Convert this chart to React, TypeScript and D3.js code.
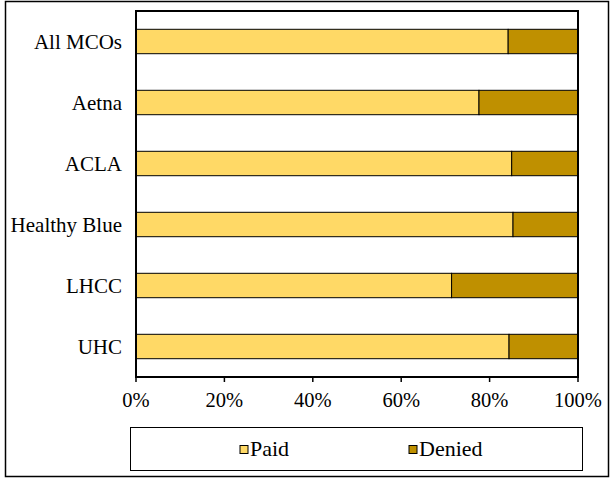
import React from "react";
import * as d3 from "d3";

const categories = ["All MCOs", "Aetna", "ACLA", "Healthy Blue", "LHCC", "UHC"];
const paid = [84.2, 77.6, 85.0, 85.3, 71.4, 84.4];
const denied = paid.map((p) => 100 - p);
const seriesNames = ["Paid", "Denied"];
const seriesColors = ["#FFD966", "#BF9000"];
const tickValues = [0, 20, 40, 60, 80, 100];

const W = 613;
const H = 480;
const plot = { left: 136, right: 578, top: 11, bottom: 377 };
const FONT = "Liberation Serif, Times New Roman, DejaVu Serif, serif";

export default function App() {
  const x = d3.scaleLinear().domain([0, 100]).range([plot.left, plot.right]);
  const y = d3
    .scaleBand<string>()
    .domain(categories)
    .range([plot.top, plot.bottom])
    .paddingInner(0.6)
    .paddingOuter(0.3);

  const rows = categories.map((c, i) => ({ cat: c, Paid: paid[i], Denied: denied[i] }));
  const stack = d3.stack<any>().keys(seriesNames)(rows);

  return (
    <svg
      width={W}
      height={H}
      style={{ position: "absolute", left: 0, top: 0, background: "#fff", fontFamily: FONT }}
    >
      <rect x={5.5} y={1.5} width={603} height={475} fill="#fff" stroke="#000" strokeWidth={1.5} />
      {stack.map((s, si) =>
        s.map((d, i) => (
          <rect
            key={si + "-" + i}
            x={x(d[0])}
            y={y(categories[i])}
            width={x(d[1]) - x(d[0])}
            height={y.bandwidth()}
            fill={seriesColors[si]}
            stroke="#000"
            strokeWidth={1}
          />
        ))
      )}
      <rect
        x={plot.left}
        y={plot.top}
        width={plot.right - plot.left}
        height={plot.bottom - plot.top}
        fill="none"
        stroke="#000"
        strokeWidth={2}
      />
      {tickValues.map((t) => (
        <g key={t}>
          <line x1={x(t)} x2={x(t)} y1={plot.bottom} y2={plot.bottom + 5} stroke="#000" strokeWidth={1.5} />
          <text x={x(t)} y={plot.bottom + 30} textAnchor="middle" fontSize={20.5} style={{ fontFamily: FONT }}>
            {t + "%"}
          </text>
        </g>
      ))}
      {categories.map((c) => (
        <text
          key={c}
          x={122}
          y={(y(c) as number) + y.bandwidth() / 2}
          dy="0.35em"
          textAnchor="end"
          fontSize={21}
          style={{ fontFamily: FONT }}
        >
          {c}
        </text>
      ))}
      <rect x={130.5} y={427.5} width={452} height={43} fill="#fff" stroke="#000" strokeWidth={1} />
      {seriesNames.map((n, i) => {
        const lx = [240, 409][i];
        return (
          <g key={n}>
            <rect x={lx} y={445.5} width={8} height={8} fill={seriesColors[i]} stroke="#000" strokeWidth={1} />
            <text x={lx + 10} y={456} fontSize={22} style={{ fontFamily: FONT }}>
              {n}
            </text>
          </g>
        );
      })}
    </svg>
  );
}
